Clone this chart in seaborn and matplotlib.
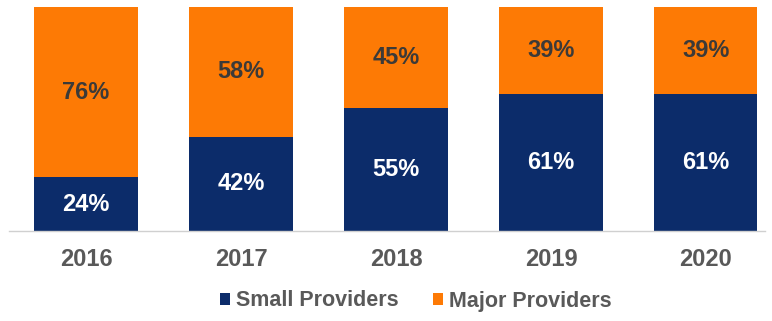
import matplotlib
matplotlib.use("Agg")
import matplotlib.pyplot as plt
import seaborn as sns
import pandas as pd
from matplotlib.patches import Patch

years = ["2016", "2017", "2018", "2019", "2020"]
small_providers = [24, 42, 55, 61, 61]
major_providers = [76, 58, 45, 39, 39]

NAVY = "#0c2c6a"
ORANGE = "#fd7a05"

sns.set_theme(style="white")
plt.rcParams["font.family"] = ["Liberation Sans", "DejaVu Sans"]
plt.rcParams["font.weight"] = "bold"

df = pd.DataFrame({
    "year": years,
    "small": small_providers,
    "major": major_providers,
})
df["total"] = df["small"] + df["major"]

fig = plt.figure(figsize=(7.72, 3.21), dpi=100)
ax = fig.add_axes([9 / 772, 1 - 231 / 321, (765 - 9) / 772, (231 - 7) / 321])

# stacked bars: full height in orange, small providers drawn over in navy
sns.barplot(data=df, x="year", y="total", color=ORANGE, width=0.665,
            saturation=1, linewidth=0, ax=ax)
sns.barplot(data=df, x="year", y="small", color=NAVY, width=0.665,
            saturation=1, linewidth=0, ax=ax)

major_bars = ax.containers[0]
small_bars = ax.containers[1]
for bar, s, m in zip(major_bars, small_providers, major_providers):
    x = bar.get_x() + bar.get_width() / 2
    ax.text(x, s + m / 2, f"{m}%", ha="center", va="center",
            fontsize=17, fontweight="bold", color="#3c3a38")
for bar, s in zip(small_bars, small_providers):
    x = bar.get_x() + bar.get_width() / 2
    ax.text(x, s / 2, f"{s}%", ha="center", va="center",
            fontsize=17, fontweight="bold", color="white")

ax.set_ylim(0, 100)
ax.set_xlim(-0.497, 4.381)
ax.set_xlabel("")
ax.set_ylabel("")
ax.set_yticks([])
ax.tick_params(axis="x", length=0, pad=12, labelsize=17, labelcolor="#595959")
for lbl in ax.get_xticklabels():
    lbl.set_fontweight("bold")
for side in ["top", "left", "right"]:
    ax.spines[side].set_visible(False)
ax.spines["bottom"].set_color("#d0d0d0")
ax.spines["bottom"].set_linewidth(1.0)

handles = [Patch(facecolor=NAVY, edgecolor="none", label="Small Providers"),
           Patch(facecolor=ORANGE, edgecolor="none", label="Major Providers")]
fig.legend(handles=handles, loc="center", bbox_to_anchor=(416 / 772, 1 - 301 / 321),
           ncol=2, frameon=False, handlelength=0.45, handleheight=0.45,
           handletextpad=0.3, columnspacing=1.6, labelcolor="#595959",
           prop={"weight": "bold", "size": 15.5})

fig.savefig("out.png", dpi=100)
